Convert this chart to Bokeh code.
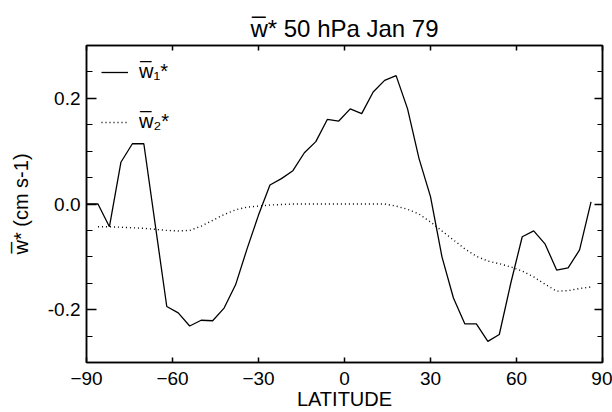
from bokeh.plotting import figure
from bokeh.models import (Range1d, LinearAxis, FixedTicker, Legend, LegendItem,
                          NumeralTickFormatter, CustomLabelingPolicy)
from bokeh.embed import file_html
from bokeh.resources import INLINE

# ---- data ----
lat1 = [-90, -86, -82, -78, -74, -70, -66, -62, -58, -54, -50, -46, -42, -38, -34,
        -30, -26, -22, -18, -14, -10, -6, -2, 2, 6, 10, 14, 18, 22, 26,
        30, 34, 38, 42, 46, 50, 54, 58, 62, 66, 70, 74, 78, 82, 86]
w1 = [0.000, 0.000, -0.043, 0.079, 0.114, 0.114, -0.040, -0.194, -0.206, -0.231,
      -0.220, -0.221, -0.197, -0.153, -0.085, -0.021, 0.036, 0.048, 0.063, 0.097,
      0.118, 0.160, 0.157, 0.180, 0.171, 0.212, 0.234, 0.243, 0.180, 0.086,
      0.014, -0.100, -0.178, -0.227, -0.227, -0.260, -0.247, -0.150, -0.062, -0.051,
      -0.076, -0.125, -0.121, -0.087, 0.004]

lat2 = [-86, -82, -78, -74, -70, -66, -62, -58, -54, -50, -46, -42, -38, -34,
        -30, -26, -22, -18, -14, -10, -6, -2, 2, 6, 10, 14, 18, 22, 26,
        30, 34, 38, 42, 46, 50, 54, 58, 62, 66, 70, 74, 78, 82, 86]
w2 = [-0.043, -0.043, -0.044, -0.045, -0.046, -0.048, -0.050, -0.051, -0.050, -0.042,
      -0.031, -0.020, -0.011, -0.006, -0.004, -0.002, -0.001, 0.000, 0.000, 0.000,
      0.000, 0.000, 0.000, 0.000, 0.000, 0.000, -0.004, -0.010, -0.019, -0.034,
      -0.051, -0.068, -0.085, -0.099, -0.108, -0.113, -0.119, -0.127, -0.138, -0.152,
      -0.165, -0.164, -0.160, -0.157]

x_ticks = [-90, -60, -30, 0, 30, 60, 90]
y_major = [-0.2, 0.0, 0.2]
y_minor = [-0.3, -0.25, -0.2, -0.15, -0.1, -0.05, 0.0, 0.05, 0.1, 0.15, 0.2, 0.25, 0.3]

title_text = "w\u0305* 50 hPa Jan 79"
ylabel_text = "w\u0305* (cm s-1)"
xlabel_text = "LATITUDE"
legend_labels = ["w\u0305\u2081*", "w\u0305\u2082*"]

FONT = "Liberation Sans"

p = figure(width=612, height=412, output_backend="svg", toolbar_location=None,
           x_range=Range1d(-90, 90), y_range=Range1d(-0.3, 0.3),
           x_axis_location=None, y_axis_location=None,
           min_border_left=86, min_border_right=10, min_border_top=45,
           min_border_bottom=49)
p.grid.visible = False
p.outline_line_color = "black"
p.outline_line_width = 1.5
p.background_fill_color = "white"
p.border_fill_color = "white"

r1 = p.line(lat1, w1, line_color="black", line_width=1.3)
r2 = p.line(lat2, w2, line_color="black", line_width=1.4, line_dash="1 3")


def style(ax, tin, mtin):
    ax.axis_line_width = 1.5
    ax.axis_line_color = "black"
    ax.major_tick_line_color = "black"
    ax.minor_tick_line_color = "black"
    ax.major_tick_line_width = 1.5
    ax.minor_tick_line_width = 1.2
    ax.major_tick_in = tin
    ax.major_tick_out = 0
    ax.minor_tick_in = mtin
    ax.minor_tick_out = 0
    ax.major_label_text_font = FONT
    ax.major_label_text_font_size = "19px"
    ax.major_label_text_color = "black"
    ax.axis_label_text_color = "black"
    ax.axis_label_text_font = FONT
    ax.axis_label_text_font_size = "20px"
    ax.axis_label_text_font_style = "normal"


def hide_labels(ax):
    ax.major_label_text_font_size = "0px"
    ax.major_label_standoff = 0
    ax.major_label_policy = CustomLabelingPolicy(code="return []")


yt = FixedTicker(ticks=y_major, minor_ticks=y_minor)
xt = FixedTicker(ticks=x_ticks, minor_ticks=[])

left = LinearAxis(ticker=yt, formatter=NumeralTickFormatter(format="0.0"))
style(left, 10, 6)
left.major_label_standoff = 6
left.axis_label = ylabel_text
left.axis_label_standoff = 13
p.add_layout(left, "left")

right = LinearAxis(ticker=yt)
style(right, 8, 5)
hide_labels(right)
p.add_layout(right, "right")

bottom = LinearAxis(ticker=xt)
style(bottom, 5, 0)
bottom.major_label_standoff = 9
bottom.axis_label = xlabel_text
bottom.axis_label_standoff = 0
p.add_layout(bottom, "below")

top = LinearAxis(ticker=xt)
style(top, 5, 0)
hide_labels(top)
p.add_layout(top, "above")

p.title.text = title_text
p.title.align = "center"
p.title.text_font = FONT
p.title.text_font_size = "24px"
p.title.text_font_style = "normal"
p.title.text_color = "black"
p.title.standoff = 7

legend = Legend(items=[LegendItem(label=legend_labels[0], renderers=[r1]),
                       LegendItem(label=legend_labels[1], renderers=[r2])],
                location=(15, 229), border_line_color=None,
                background_fill_alpha=0, padding=0, margin=0, spacing=27,
                glyph_width=27, glyph_height=20, label_height=20,
                label_standoff=11, label_text_font=FONT,
                label_text_color="black", label_text_font_size="20px")
p.add_layout(legend)

open("out.html", "w").write(file_html(p, INLINE))
